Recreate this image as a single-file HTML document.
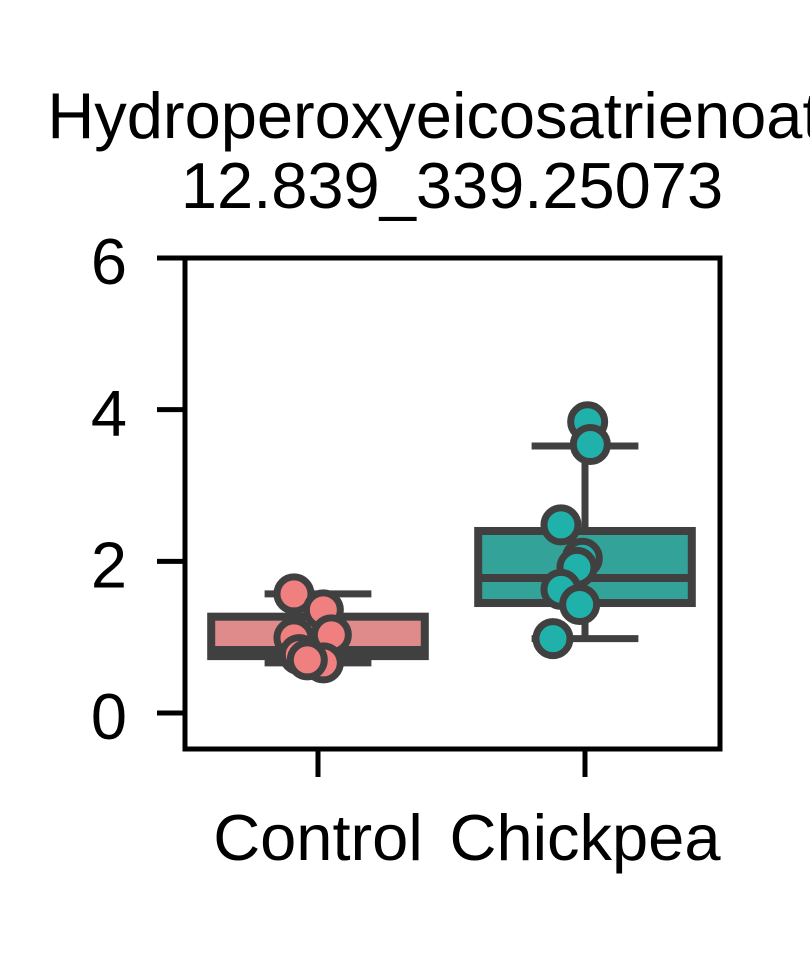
<!DOCTYPE html>
<html><head><meta charset="utf-8"><style>
html,body{margin:0;padding:0;background:#fff;width:810px;height:960px;overflow:hidden}
text{font-family:"Liberation Sans",Arial,sans-serif;fill:#000}
</style></head><body>
<svg id="chart" width="810" height="960" viewBox="0 0 810 960" xmlns="http://www.w3.org/2000/svg">
<text x="452" y="138" font-size="65" text-anchor="middle">Hydroperoxyeicosatrienoate</text>
<text x="452" y="208" font-size="65" text-anchor="middle">12.839_339.25073</text>
<g id="plot"></g>
</svg>
<script>
const categories = ["Control", "Chickpea"];
const boxQ1 = [0.75, 1.45];
const boxMedian = [0.83, 1.78];
const boxQ3 = [1.27, 2.40];
const whiskerLow = [0.66, 0.98];
const whiskerHigh = [1.57, 3.52];
const controlPoints = [1.57, 1.36, 1.03, 0.99, 0.77, 0.66, 0.70];
const chickpeaPoints = [3.84, 3.54, 2.48, 2.04, 1.92, 1.63, 1.43, 0.98];
const yTicks = [0, 2, 4, 6];
const boxColors = ["#e08b8b", "#33a39a"];
const pointColors = ["#f08080", "#20b2aa"];
const controlJitter = [-0.09, 0.02, 0.05, -0.09, -0.07, 0.02, -0.04];
const chickpeaJitter = [0.01, 0.02, -0.09, -0.01, -0.03, -0.09, -0.02, -0.12];

const NS = "http://www.w3.org/2000/svg";
const L = 185, R = 720, T = 258, B = 749;
const yMin = -0.475, yMax = 6;
function y(v){ return B - (v - yMin) / (yMax - yMin) * (B - T); }
function x(i){ return 318 + i * 267; }
const bandW = 267;
const plot = document.getElementById("plot");
function mk(tag, attrs){ const e = document.createElementNS(NS, tag); for (const k in attrs) e.setAttribute(k, attrs[k]); plot.appendChild(e); return e; }

yTicks.forEach(t => {
  const tk = mk("line", {x1: L - 28, x2: L, y1: y(t), y2: y(t), stroke: "#000", "stroke-width": 5});
  
  
  const lb = mk("text", {x: L - 58, y: y(t) + 26, "font-size": 65, "text-anchor": "end"});
  lb.textContent = t;
  
  
});
categories.forEach((c, i) => {
  const tk = mk("line", {x1: x(i), x2: x(i), y1: B, y2: B + 28, stroke: "#000", "stroke-width": 5});
  
  
  const lb = mk("text", {x: x(i), y: 860, "font-size": 65, "text-anchor": "middle"});
  lb.textContent = c;
  
  
});

categories.forEach((c, i) => {
  const cx = x(i), hw = bandW * 0.4, cw = bandW * 0.2;
  const g = "#404040";
  const w1 = mk("line", {x1: cx, x2: cx, y1: y(whiskerLow[i]), y2: y(boxQ1[i]), stroke: g, "stroke-width": 7});
  
  
  const w2 = mk("line", {x1: cx, x2: cx, y1: y(boxQ3[i]), y2: y(whiskerHigh[i]), stroke: g, "stroke-width": 7});
  
  
  const c1 = mk("line", {x1: cx - cw, x2: cx + cw, y1: y(whiskerLow[i]), y2: y(whiskerLow[i]), stroke: g, "stroke-width": 7});
  
  
  const c2 = mk("line", {x1: cx - cw, x2: cx + cw, y1: y(whiskerHigh[i]), y2: y(whiskerHigh[i]), stroke: g, "stroke-width": 7});
  
  
  const bx = mk("rect", {x: cx - hw, y: y(boxQ3[i]), width: 2 * hw, height: y(boxQ1[i]) - y(boxQ3[i]), fill: boxColors[i], stroke: g, "stroke-width": 8});
  
  
  const md = mk("line", {x1: cx - hw, x2: cx + hw, y1: y(boxMedian[i]), y2: y(boxMedian[i]), stroke: g, "stroke-width": 8});
  
  
});

[[controlPoints, controlJitter], [chickpeaPoints, chickpeaJitter]].forEach(([pts, jit], i) => {
  pts.forEach((v, k) => {
    const p = mk("circle", {cx: x(i) + jit[k] * bandW, cy: y(v), r: 17, fill: pointColors[i], stroke: "#404040", "stroke-width": 7});
    
    
  });
});

const frame = mk("rect", {x: L, y: T, width: R - L, height: B - T, fill: "none", stroke: "#000", "stroke-width": 5});


</script>
</body></html>
